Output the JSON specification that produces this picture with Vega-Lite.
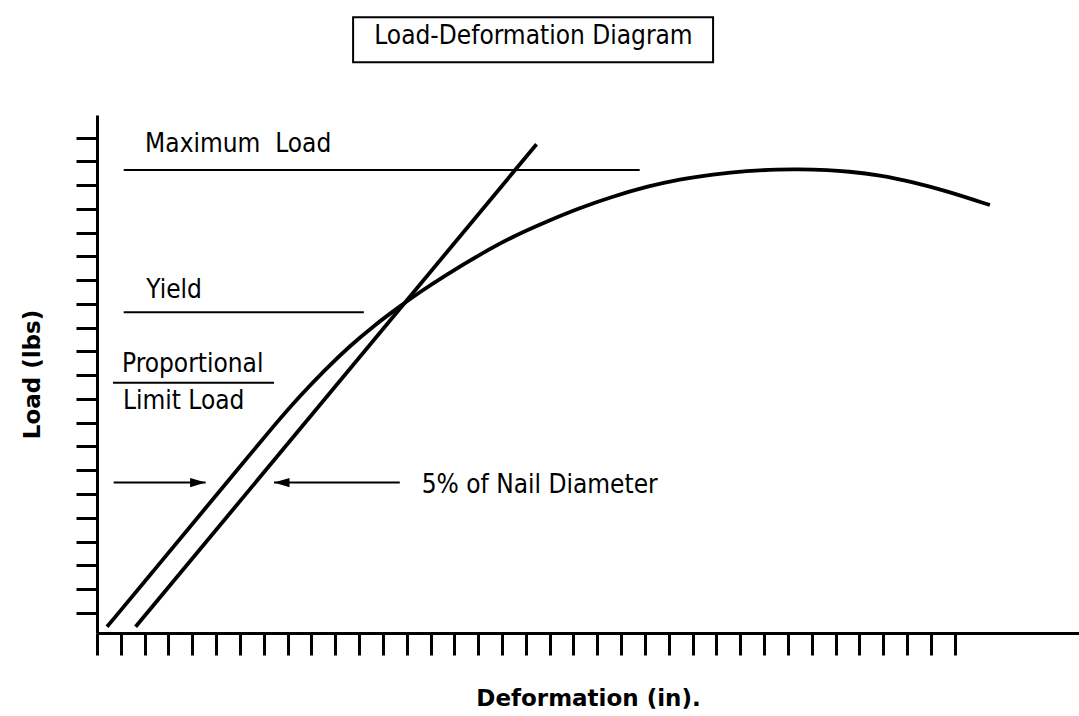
{
  "$schema": "https://vega.github.io/schema/vega-lite/v6.json",
  "width": 982,
  "height": 518,
  "autosize": {"type": "none"},
  "padding": {"left": 97, "top": 115, "right": 0, "bottom": 83},
  "background": "white",
  "config": {"view": {"stroke": null}, "font": "DejaVu Sans Condensed"},
  "datasets": {
    "curves": [
      {"series": "Load curve", "u": 0.42, "v": -0.59},
      {"series": "Load curve", "u": 2.4, "v": 1.8},
      {"series": "Load curve", "u": 4.31, "v": 4.11},
      {"series": "Load curve", "u": 6.0, "v": 6.15},
      {"series": "Load curve", "u": 7.46, "v": 7.92},
      {"series": "Load curve", "u": 8.51, "v": 9.12},
      {"series": "Load curve", "u": 9.56, "v": 10.22},
      {"series": "Load curve", "u": 10.61, "v": 11.23},
      {"series": "Load curve", "u": 11.66, "v": 12.11},
      {"series": "Load curve", "u": 12.62, "v": 12.83},
      {"series": "Load curve", "u": 13.55, "v": 13.50},
      {"series": "Load curve", "u": 14.68, "v": 14.24},
      {"series": "Load curve", "u": 16.07, "v": 15.08},
      {"series": "Load curve", "u": 17.45, "v": 15.84},
      {"series": "Load curve", "u": 18.88, "v": 16.47},
      {"series": "Load curve", "u": 20.26, "v": 17.04},
      {"series": "Load curve", "u": 21.65, "v": 17.52},
      {"series": "Load curve", "u": 23.08, "v": 17.94},
      {"series": "Load curve", "u": 24.46, "v": 18.25},
      {"series": "Load curve", "u": 25.85, "v": 18.45},
      {"series": "Load curve", "u": 27.28, "v": 18.60},
      {"series": "Load curve", "u": 28.66, "v": 18.66},
      {"series": "Load curve", "u": 29.33, "v": 18.67},
      {"series": "Load curve", "u": 30.76, "v": 18.63},
      {"series": "Load curve", "u": 31.47, "v": 18.58},
      {"series": "Load curve", "u": 32.86, "v": 18.42},
      {"series": "Load curve", "u": 34.24, "v": 18.13},
      {"series": "Load curve", "u": 35.67, "v": 17.75},
      {"series": "Load curve", "u": 37.48, "v": 17.16},
      {"series": "Offset line", "u": 1.62, "v": -0.59},
      {"series": "Offset line", "u": 18.45, "v": 19.72}
    ],
    "levels": [
      {"level": "Maximum Load", "u": 1.12, "u2": 22.78, "v": 18.64},
      {"level": "Yield", "u": 1.12, "u2": 11.2, "v": 12.65},
      {"level": "Proportional Limit Load", "u": 0.67, "u2": 7.43, "v": 9.68}
    ],
    "arrows": [
      {"dir": "right", "u": 0.7, "u2": 4.56, "v": 5.48},
      {"dir": "left", "u": 12.71, "u2": 7.43, "v": 5.48}
    ],
    "heads": [
      {"dir": "right", "u": 4.56, "v": 5.48},
      {"dir": "left", "u": 7.43, "v": 5.48}
    ],
    "labels": [
      {"text": "Maximum \u00a0Load", "u": 2.02, "v": 19.41},
      {"text": "Yield", "u": 2.07, "v": 13.24},
      {"text": "Proportional", "u": 1.05, "v": 10.12},
      {"text": "Limit Load", "u": 1.09, "v": 8.58},
      {"text": "5% of Nail Diameter", "u": 13.63, "v": 5.06}
    ],
    "titlebox": [
      {"u": 10.75, "u2": 25.86, "v": 25.06, "v2": 23.17}
    ],
    "title": [
      {"text": "Load-Deformation Diagram", "u": 18.32, "v": 23.93}
    ]
  },
  "encoding": {
    "x": {
      "field": "u",
      "type": "quantitative",
      "scale": {"domain": [0, 41.22], "nice": false, "zero": false},
      "axis": {
        "values": [0,1,2,3,4,5,6,7,8,9,10,11,12,13,14,15,16,17,18,19,20,21,22,23,24,25,26,27,28,29,30,31,32,33,34,35,36],
        "labels": false,
        "grid": false,
        "tickSize": 22,
        "tickWidth": 3,
        "tickColor": "black",
        "domainColor": "black",
        "domainWidth": 3,
        "title": "Deformation (in).",
        "titleFont": "DejaVu Sans",
        "titleFontSize": 23,
        "titleFontWeight": "bold",
        "titleColor": "black",
        "titleX": 491,
        "titleY": 72,
        "titleAlign": "center",
        "titleBaseline": "alphabetic"
      }
    },
    "y": {
      "field": "v",
      "type": "quantitative",
      "scale": {"domain": [-0.85, 20.95], "nice": false, "zero": false},
      "axis": {
        "values": [0,1,2,3,4,5,6,7,8,9,10,11,12,13,14,15,16,17,18,19,20],
        "labels": false,
        "grid": false,
        "tickSize": 21,
        "tickWidth": 3,
        "tickColor": "black",
        "domainColor": "black",
        "domainWidth": 3,
        "title": "Load (lbs)",
        "titleFont": "DejaVu Sans",
        "titleFontSize": 23,
        "titleFontWeight": "bold",
        "titleColor": "black",
        "titleAngle": 270,
        "titleX": -58,
        "titleY": 259,
        "titleAlign": "center",
        "titleBaseline": "alphabetic"
      }
    }
  },
  "layer": [
    {
      "data": {"name": "titlebox"},
      "mark": {"type": "rect", "fill": "white", "stroke": "black", "strokeWidth": 2},
      "encoding": {"x2": {"field": "u2"}, "y2": {"field": "v2"}}
    },
    {
      "data": {"name": "title"},
      "mark": {"type": "text", "align": "center", "baseline": "alphabetic", "fontSize": 26, "font": "DejaVu Sans Condensed", "color": "black"},
      "encoding": {"text": {"field": "text"}}
    },
    {
      "data": {"name": "levels"},
      "mark": {"type": "rule", "color": "black", "strokeWidth": 2},
      "encoding": {"x2": {"field": "u2"}}
    },
    {
      "data": {"name": "arrows"},
      "mark": {"type": "rule", "color": "black", "strokeWidth": 2},
      "encoding": {"x2": {"field": "u2"}}
    },
    {
      "data": {"name": "heads"},
      "mark": {"type": "point", "filled": true, "color": "black", "opacity": 1, "size": 240},
      "encoding": {
        "shape": {
          "field": "dir",
          "type": "nominal",
          "scale": {"domain": ["right", "left"], "range": ["M 0 0 L -2 -0.6 L -2 0.6 Z", "M 0 0 L 2 -0.6 L 2 0.6 Z"]},
          "legend": null
        }
      }
    },
    {
      "data": {"name": "curves"},
      "mark": {"type": "line", "color": "black", "strokeWidth": 3.8, "interpolate": "basis", "strokeCap": "butt"},
      "encoding": {"detail": {"field": "series"}}
    },
    {
      "data": {"name": "labels"},
      "mark": {"type": "text", "align": "left", "baseline": "alphabetic", "fontSize": 26, "font": "DejaVu Sans Condensed", "color": "black"},
      "encoding": {"text": {"field": "text"}}
    }
  ]
}
